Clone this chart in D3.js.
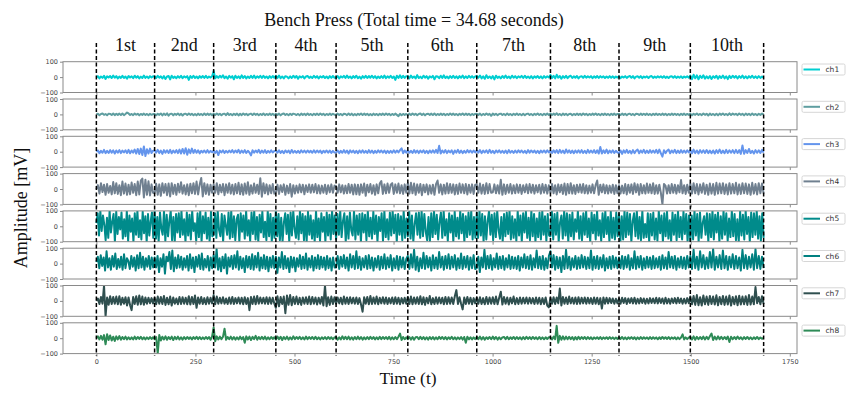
<!DOCTYPE html>
<html>
<head>
<meta charset="utf-8">
<script src="https://cdn.jsdelivr.net/npm/d3@7"></script>
<style>
  body { margin: 0; background: #fff; }
  svg { display: block; }
</style>
</head>
<body>
<div id="chart"></div>
<script>
// EMG amplitude (mV), one list per repetition
const channels = ['ch1', 'ch2', 'ch3', 'ch4', 'ch5', 'ch6', 'ch7', 'ch8'];
const colors = ['#00CED1', '#5F9EA0', '#6495ED', '#708090', '#008B8B', '#008080', '#2F4F4F', '#2E8B57'];

const ch1 = [
  [0, 6, -8, 4, -5, 9, -12, 5, -3, 7, -6, 10, -4, 6, -9, 3, -5, 8, -6, 4, -10, 7, -3, 5, -7, 9, -4, 6, -8, 3, -6, 10, -5, 4, -7, 6, -3, 5],
  [4, -6, 8, -4, 5, -9, 6, -12, 4, 7, -15, 9, -5, 3, -7, 6, -4, 8, -7, 5, -3, 6, -18, 7, -5, 9, -6, 4, -8, 6, -4, 7, -5, 8, -6, 4, -3, 6],
  [40, -8, 6, -5, 9, -3, 12, -7, 4, -10, 8, -4, 6, -14, 9, -6, 5, -8, 11, -5, 7, -9, 4, -6, 8, -5, 10, -7, 5, -4, 8, -6, 9, -5, 4, -8, 6, -5, 7, -4],
  [8, -5, 10, -7, 4, -9, 6, 3, -8, 5, -6, 9, -4, 7, -11, 5, -3, 6, -8, 4, 7, -5, 3, -6, 8, -4, 6, -9, 5, -3, 7, -6, 4, -8, 6, -5, 7, -4],
  [-4, 7, -9, 5, -3, 8, -6, 10, -5, 4, -8, 6, -4, 9, -7, 3, -10, 6, -5, 8, -6, 7, -4, 9, -5, 6, -8, 4, -6, 7, -5, 10, -7, 5, -4, 8, -6, 4, -18, 9, -5, 12, -6, 8, -5, 6],
  [6, -8, 10, -5, 4, -9, 13, -6, 3, -7, 9, -4, 6, -10, 5, -3, 8, -14, 6, 4, -7, 9, -5, 11, -6, 4, -8, 7, -5, 9, -6, 5, -8, 6, -4, 10, -7, 5, -6, 8, -4, 6, -5, 4],
  [7, -4, 10, -8, 5, -11, 12, -6, 4, -9, 6, -15, 9, -5, 3, -8, 7, -5, 10, -6, 4, -8, 9, -4, 6, -7, 5, -3, 8, -6, 9, -5, 4, -7, 6, -8, 5, -4, 7, -6, 5, -8, 6, -4, 5, -3],
  [14, -6, 9, -8, 15, -4, 7, -10, 6, -5, 8, -7, 4, 9, -6, 5, -4, 7, -8, 3, 6, -5, 8, -4, 5, -3, 6, -7, 5, -4, 7, -5, 6, -3, 5, -6, 4, -5, 6, -4, 5, -6, 4, -3],
  [5, -7, 4, -3, 6, -5, 3, 7, -4, 6, -8, 3, 5, -4, 6, -7, 4, -3, 5, -6, 4, 7, -5, 3, -4, 6, -3, 5, -4, 6, -5, 3, -6, 4, 5, -4, 6, -5, 3, -4, 5, -6, 4, -3, 5, -4],
  [10, -13, 15, -8, 11, -14, 9, -6, 12, -10, 5, -8, 7, -12, 6, -5, 9, -11, 7, -6, 10, -8, 5, -13, 8, -6, 9, -4, 7, -9, 6, -5, 10, -7, 5, -8, 6, -4, 9, -6, 5, -7, 6, -5, 4, -3]
];
const ch2 = [
  [0, 4, -5, 3, 6, -3, 2, -6, 5, 3, -4, 6, -5, 4, -3, 5, -4, 6, -5, 3, 12, 6, -4, 3, -5, 6, -2, 4, -6, 3, -3, 5, -4, 3, -5, 4, -3, 2],
  [3, -5, 4, -3, 6, -7, 5, -4, 7, -8, 3, 5, -6, 4, -3, 6, -5, 4, -7, 3, 5, -4, 6, -3, 4, -5, 3, -6, 5, -4, 3, -5, 6, -4, 5, -3, 4, -5],
  [5, -4, 6, -3, 4, -6, 3, 5, -5, 8, -4, 3, -6, 4, -3, 5, -7, 4, -5, 6, -3, 4, -5, 2, 5, -4, 6, -3, 4, -5, 3, -4, 6, -5, 3, -4, 5, -3, 4, -5],
  [4, -3, 5, -6, 3, 6, -4, 3, -5, 4, -3, 5, 2, -4, 3, -6, 5, -3, 4, -5, 6, -4, 3, -5, 4, -3, 5, -4, 6, -3, 4, -5, 3, -4, 5, -3, 4, -2],
  [-3, 5, -4, 3, -6, 4, 3, -5, 6, -4, 5, -6, 3, -5, 4, -3, 6, -4, 5, -3, 4, -6, 3, -5, 5, -4, 3, -6, 4, -3, 5, -4, 6, -3, 4, -5, 3, -4, 5, -3, -11, 4, -5, 3, -4, 3],
  [-5, 5, -4, 6, -3, 4, -5, 3, 6, -4, 5, -6, 3, 4, -3, 5, -4, 6, -5, 3, -4, 5, -3, 4, -5, 3, -4, 6, -3, 5, -4, 3, -5, 4, -3, 6, -4, 5, -3, 4, -5, 3, -4, 3],
  [4, -3, 5, -6, 3, -4, 6, -3, 4, -9, 5, -3, 4, -5, 3, 5, -4, 3, -5, 6, -4, 3, -5, 4, -3, 5, -4, 3, -5, 4, -6, 3, 5, -4, 3, -5, 4, -3, 6, -4, 3, -5, 4, -3, 5, -4],
  [6, -4, 5, -3, 7, -4, 3, -6, 5, -3, 4, -5, 3, 4, -6, 3, -4, 5, -3, 4, -5, 6, -3, 4, -5, 3, -4, 5, -3, 6, -4, 3, -5, 4, -3, 5, -4, 3, -5, 4, -3, 5, -4, 3],
  [3, -4, 5, -3, 4, -5, 3, 5, -4, 3, -5, 4, 3, -4, 5, -3, 4, -3, 5, -4, 3, -5, 4, -3, 5, -4, 3, -4, 5, -3, 4, -5, 3, -4, 5, -3, 4, -4, 3, -5, 4, -3, 5, -4, 3, -3],
  [5, -6, 4, -3, 6, -4, 3, -5, 6, -3, 4, -7, 5, -4, 3, -5, 4, -6, 5, -3, 6, -4, 3, -5, 7, -4, 5, -2, 4, -5, 6, -3, 4, -6, 5, -3, 4, -5, 6, -4, 3, -5, 4, -3, 5, -2]
];
const ch3 = [
  [0, 8, -10, 6, -7, 12, -9, 5, -8, 10, -6, 9, -12, 8, -6, 10, -9, 7, -5, 9, -8, 12, -10, 8, -6, 14, -12, 18, -15, 20, -22, 34, -28, 16, -12, 20, -9, 7],
  [8, -6, 12, -9, 7, -14, 10, -6, 9, -8, 12, -10, 7, -6, 10, -9, 14, -12, 18, -12, 22, -20, 15, -10, 20, -8, 12, -7, 9, -11, 6, -5, 8, -7, 10, -6, 5, -4],
  [6, -8, 5, -22, 7, -5, 9, -8, 5, -6, 7, -4, 10, -6, 8, -5, 12, -9, 7, -6, 10, -8, 6, -5, -24, 9, -6, 8, -5, 12, -9, 7, -6, 10, -8, 5, -6, 9, -5, 4],
  [7, -6, 9, -8, 5, -10, 8, -5, 7, -9, 11, -6, 5, -7, 6, -8, 9, -5, 7, -6, 8, -5, 6, -7, 9, -6, 8, -5, 7, -9, 6, -5, 8, -6, 7, -8, 5, -6],
  [-5, 8, -9, 6, -7, 10, -6, 8, -12, 9, -5, 7, -8, 6, -10, 8, -6, 9, -7, 5, -8, 10, -6, 8, -9, 6, -7, 9, -5, 8, -6, 7, -9, 6, -8, 5, -7, 9, -6, 8, -5, 10, 22, -10, 8, -6],
  [9, -7, 6, -8, 10, -6, 8, -9, 7, -5, 9, -8, 6, -10, 8, -6, 9, -7, 12, -8, 38, -12, 8, -6, 10, -9, 7, -5, 9, -14, 8, -6, 12, -8, 7, -9, 6, -7, 10, -5, 8, -6, 7, -5],
  [8, -6, 10, -9, 7, -5, 9, -8, 12, -7, 6, -10, 8, -5, 9, -7, 6, -8, 7, -9, 10, -6, 5, -8, 7, -6, 9, -5, 8, -7, 6, -9, 10, -6, 8, -5, 7, -8, 6, -9, 7, -5, 8, -6, 9, -5],
  [6, -8, 9, -6, 10, -9, 12, -7, 8, -10, 14, -6, 9, -8, 7, -10, 8, -6, 9, -7, 10, -8, 6, -9, 12, -7, 8, -6, 10, -8, 9, -12, 30, -12, 9, -8, 14, -10, 7, -6, 9, -8, 6, -5],
  [-10, 8, -14, 9, -7, 12, -8, 6, -11, 10, -9, 6, 14, -10, 8, -6, 12, -9, 7, -8, 10, -6, 8, -7, 12, -9, 14, -10, -32, 10, -9, 6, 14, -10, 8, -6, 12, -9, 7, -8, 10, -6, 8, -7, 9, -5],
  [12, -10, 14, -9, 8, -12, 10, -7, 9, -8, 11, -9, 7, -10, 8, -12, 10, -8, 14, -9, 7, -10, 12, -8, 9, -7, 10, -9, 12, -8, 10, -14, 40, -14, 10, -8, 18, -9, 6, -12, 10, -7, 9, -8, 12, -6]
];
const ch4 = [
  [0, 25, -30, 38, -20, 28, -38, 32, -25, 20, -35, 45, -28, 38, -32, 25, -40, 48, -30, 35, -38, 28, -34, 42, -25, 32, -40, 48, -35, 55, 68, -55, 60, -38, 50, -42, 30, -25],
  [-28, 34, -38, 30, -44, 38, -25, 32, -40, 35, -48, 38, -32, 28, -38, 34, -22, 44, -30, 25, -35, 30, -40, 34, -28, 38, -32, 48, -35, 28, 72, -48, 38, -32, 30, -38, 28, -25],
  [30, -25, 38, -34, 28, -22, 32, -40, 30, -25, 38, -30, 28, -35, 32, -28, 40, -34, 30, -38, 35, -30, 44, -38, 25, -30, 35, -25, 28, -32, 70, -50, 38, -28, 30, -35, 25, -28, 32, -30],
  [-22, 28, -32, 25, -20, 30, -38, 22, -28, 32, -50, 25, -30, 22, -25, 30, -22, 28, -34, 25, -20, 30, -25, 28, -22, 32, -28, 25, -30, 22, -25, 28, -32, 25, -22, 30, -25, 22],
  [20, -25, 30, -22, 25, -30, 22, -28, 32, -25, 28, -35, 30, -34, 28, -38, 30, -25, 35, -44, 28, -22, 32, -30, 25, -38, 30, -28, 35, 52, -32, 30, -28, 35, -25, 28, 38, -32, 30, -25, 35, -28, 25, -32, 30, -25],
  [38, -30, 40, -28, 35, -38, 30, -25, 32, -40, 28, -22, 30, -35, 25, -30, 28, -38, 32, 55, -25, 30, -35, 28, -30, 38, -28, 32, -25, 30, -35, 28, -32, 35, -25, 30, -28, 32, -35, 28, -25, 30, -32, 28],
  [30, -25, 35, -30, 28, -32, 38, -28, 32, -25, -22, 30, -28, 25, -30, 60, -38, 30, -32, 28, -25, 32, -30, 25, -28, 30, -25, 28, -32, 25, -22, 30, -28, 32, -25, 28, -30, 25, -22, 28, -30, 32, -25, 28, -30, 25],
  [-25, 32, -28, 25, -35, 30, -22, 28, -32, 35, -38, 32, -28, 38, -30, 25, -32, 28, -22, 30, -25, 32, -28, 25, -30, 22, -25, 30, -28, 25, 55, -38, 28, -22, 30, -28, 25, -30, 22, -25, 28, -32, 25, -28],
  [25, -30, 22, -28, 32, -35, 28, -25, 30, -32, 38, -22, 30, -38, 32, -28, 25, -30, 35, -25, 30, -28, 38, -32, 25, -30, 28, -25, -100, 32, 22, -30, 25, -28, 32, -25, 28, -30, 25, -22, 58, -28, 25, -32, 28, -25],
  [35, -30, 38, -28, 32, -35, 30, -25, 38, -32, 28, -38, 35, -30, 32, -38, 40, -30, 35, -28, 38, -32, 30, -35, 38, -30, 32, -28, 40, -35, 30, -32, 38, -28, 35, -32, 30, -38, 40, -30, 32, -35, 38, -28, 35, -30]
];
const ch5 = [
  [20, 85, -60, 100, -30, 70, 10, -90, 55, -75, 100, -40, 30, 80, -100, 95, -50, 60, -20, 90, -80, 45, -65, 100, -95, 70, -35, 50, -100, 85, -55, 100, -70, 40, -85, 95, -45, 65, -100, 80, -60, 30, 90, -75],
  [100, -80, 60, -100, 90, -15, -55, 100, -95, 75, -65, 35, 100, -90, 60, -100, 80, -40, 85, -70, 100, -55, 45, -100, 90, -60, 75, -85, 100, -30, 20, -95, 85, -70, 100, -100, 65, -45, 90, -80, 55, -100, 95, -65],
  [-55, 85, -75, 100, -25, -65, 80, -100, 70, 5, -55, 90, -80, 100, -70, 65, -90, 45, 75, -100, 85, -35, 70, -80, 100, -60, 40, -95, 90, -50, 100, -85, 60, -100, 75, -40, 95, -70, 30, -90, 100, -65, 80, -100, 55, -75],
  [100, -65, 80, -90, 55, -100, 25, 85, -50, 75, -100, 90, -60, 100, -15, -75, 65, -85, 100, -45, 80, -90, 65, -100, 95, -55, 70, -80, 40, -100, 100, -70, 50, -95, 85, -35, 60, -100, 90, -60, 75, -85, 100, -50, 70],
  [-85, 80, -55, 100, -70, 35, 85, -100, 65, -80, 90, -25, -60, 100, -85, 70, -55, 80, -100, 85, -40, 75, -90, 100, -65, 55, -80, 95, -50, 70, -100, 60, -30, 85, -95, 100, -70, 45, -85, 90, -60, 100, -45, 75, -100, 80, -55, 65, -90, 100, -75, 50],
  [-65, 100, -80, 70, -100, 15, 85, -55, 90, -75, 100, -65, 80, -35, -90, 60, -100, 85, -70, 100, -50, 75, -85, 30, 90, -75, 100, -60, 45, -95, 85, -40, 70, -100, 95, -65, 55, -80, 100, -45, 80, -100, 65, -70, 90, -55, 100, -85, 60, -75],
  [90, -75, 100, -60, 80, -100, 65, -85, 35, 100, -55, 75, -90, 85, -70, 100, -25, -80, 60, -100, 80, -65, 90, -50, 100, -85, 65, -75, 45, -95, 100, -60, 70, -100, 85, -40, 95, -75, 55, -90, 100, -65, 80, -100, 50, -70, 90, -85, 100, -55, 65, -95, 80, -60],
  [-65, 100, -85, 80, -55, 90, -100, 25, 70, -80, 100, -60, 85, -100, 75, -65, 90, -85, 45, -35, 100, -80, 65, -90, 85, -55, 100, -70, 50, -100, 90, -45, 75, -85, 100, -60, 40, -95, 85, -70, 100, -50, 60, -100, 95, -75, 55, -85, 90, -65],
  [80, -100, 65, -85, 100, -70, 90, -55, 80, -100, 35, 85, -65, 100, -80, 60, -90, 100, -75, 15, -70, 85, -100, 80, -60, 90, -85, 50, -95, 100, -45, 70, -100, 85, -65, 95, -80, 40, -100, 90, -55, 75, -90, 100, -70, 60, -85, 95, -50, 80, -100, 70],
  [-100, 70, -85, 100, -60, 80, -100, 90, -75, 25, 65, -55, 85, -100, 80, -70, 100, -85, 75, -40, 90, -100, 65, -80, 100, -55, 85, -95, 50, -70, 100, -65, 80, -90, 45, -100, 95, -60, 75, -85, 100, -50, 60, -100, 90, -70, 85, -55, 100, -80, 65, -95, 85, -75]
];
const ch6 = [
  [10, 45, -30, 55, -15, 40, -45, 80, -25, 35, -40, 50, -20, 65, -35, 30, -25, 45, -40, 60, -30, 35, 15, -35, 50, -20, 40, -45, 55, -30, 70, -25, 45, -40, 35, -20, 50, -35, 40, -25],
  [40, -25, 50, -55, 35, -20, 60, -65, 45, 15, 75, -35, 85, -50, 40, -30, 55, -25, 45, -40, 35, -25, 50, -45, 60, -30, 40, -55, 45, -20, 55, -35, 65, -40, 30, -25, 50, -45, 40, -30],
  [55, -25, 95, -40, 35, -50, 45, -30, 60, -65, 40, -20, 50, -35, 55, -25, 80, -40, 45, -30, 35, -55, 50, -25, 45, -35, 60, -40, 50, -25, 70, -45, 40, -30, 55, -35, 45, -50, 40, -25, 50, -30],
  [45, -60, 40, -25, 75, -35, 50, -30, 35, -55, 45, -25, 40, -50, 35, -20, 55, -35, 45, -30, 65, -40, 35, -25, 50, -45, 40, -30, 55, -35, 45, -25, 40, -40, 50, -30, 35, -45, 40, -25],
  [-25, 50, -35, 45, -20, 55, -30, 40, -45, 60, -25, 50, -35, 80, -30, 45, -40, 35, -25, 50, -35, 55, -30, 40, -45, 35, -25, 50, -40, 45, -30, 60, -35, 40, -25, 55, -45, 35, -30, 50, -40, 45, -25, 40, -35, 30],
  [50, -35, 60, -25, 90, -40, 45, -50, 35, -30, 70, -35, 50, -25, 40, -45, 55, -30, 40, -35, 75, -25, 45, -40, 50, -30, 60, -35, 45, -25, 55, -40, 35, -30, 65, -35, 45, -25, 50, -40, 40, -30, 55, -35],
  [-30, 45, -55, 40, -25, 90, -35, 50, -30, 55, -40, 35, -25, 65, -35, 45, -30, 50, -40, 35, -25, 55, -35, 45, -30, 40, -35, 50, -45, 40, -25, 60, -30, 45, -35, 55, -40, 35, -25, 85, -30, 45, -35, 50, -40, 35, -30, 50],
  [80, -25, 55, -40, 45, -30, 40, -55, 50, -35, 90, -30, 45, -40, 35, -25, 50, -35, 40, -30, 55, -25, 45, -35, 40, -30, 85, -40, 45, -30, 50, -35, 40, -25, 55, -45, 35, -30, 45, -35, 50, -25, 40, -30],
  [40, -30, 50, -35, 45, -25, 55, -40, 35, -30, 80, -35, 45, -25, 50, -40, 35, -30, 45, -25, 40, -35, 50, -30, 35, -25, 45, -40, 55, -30, 40, -35, 75, -25, 45, -30, 50, -40, 35, -25, 45, -30, 40, -35, 50, -25],
  [50, -35, 90, -30, 45, -40, 80, -25, 55, -35, 40, -30, 75, -25, 95, -40, 45, -25, 55, -35, 85, -30, 50, -40, 45, -25, 60, -35, 50, -30, 40, -45, 90, -30, 55, -35, 45, -25, 60, -40, 95, -30, 50, -35, 45, -30]
];
const ch7 = [
  [0, 15, -20, 25, -18, 100, -100, 22, -25, 30, -20, 25, -18, 28, -22, 30, -25, 20, -18, 24, -30, 22, -28, -60, 25, -20, 30, -25, 35, -22, 28, -25, 22, -18, 20, -15, 18, -16],
  [20, -22, 28, -18, 25, -20, 32, -26, 20, -22, 28, -30, 22, -18, 16, -22, 26, -20, 24, -18, 20, -22, 30, -24, 26, -20, 35, -45, 22, -18, 25, -20, 18, -22, 24, -18, 20, -16],
  [38, -22, 28, -18, 20, -16, 24, -18, 16, -20, 22, -18, 26, -20, 18, -16, 22, -18, 20, -22, 24, -20, 18, -60, 26, -20, 28, -22, 32, -18, 22, -16, 20, -18, 24, -20, 22, -18, 20, -16],
  [-45, 30, -35, 25, -20, 28, -80, 35, -25, 38, -28, 26, -20, 28, -22, 20, -26, 22, -18, 24, -20, 28, -22, 26, -18, 22, -24, 20, -18, 26, -30, 100, -35, 24, -26, 28, -20, 24],
  [-18, 22, -16, 20, -22, 28, -18, 22, -20, 24, -16, 20, -18, 22, -20, 18, -24, -70, 24, -18, 26, -22, 32, -20, 22, -18, 28, -22, 20, -16, 24, -18, 22, -20, 18, -16, 22, -20, 24, -18, 20, -22, 18, -16, 20, -18],
  [26, -20, 28, -22, 22, -18, 24, -20, 30, -22, 24, -26, 20, -16, 32, -22, 18, -20, 24, -18, 22, -16, 20, -22, 26, -20, 24, -18, 22, -20, 30, 70, -20, 24, -18, -55, 22, -20, 26, -18, 20, -22, 18, -16],
  [22, -18, 24, -20, 18, -22, 26, -20, 22, -18, 24, -20, 28, -22, 20, 60, -24, 26, -18, 22, -24, 20, -16, 28, -22, 18, -20, 22, -18, 20, -16, 22, -18, 20, -16, 18, -20, 22, -18, 20, -22, 18, -20, 22, -30, -42],
  [20, -18, 24, -20, 22, -16, 80, -30, 26, -18, 22, -20, 28, -16, 20, -18, 22, -20, 24, -18, 20, -16, 22, -18, 20, -16, 18, -20, 22, -18, 20, -22, 18, -50, 22, -18, 20, -16, 18, -14, 16, -18, 14, -16],
  [16, -18, 20, -14, 18, -20, 16, -14, 18, -16, 20, -18, 14, -16, 18, -14, 16, -18, 14, -16, 18, -14, 16, -15, 20, -16, 18, -14, 16, -18, 20, -16, 14, -18, 16, -14, 18, -16, 20, -14, 16, -18, 14, -16, 18, -15],
  [28, -22, 32, -26, 38, -28, 24, -30, 35, -22, 28, -26, 32, -20, 28, -24, 36, -28, 26, -22, 32, -26, 28, -24, 35, -30, 26, -22, 30, -28, 34, -24, 28, -22, 30, -26, 38, -24, 28, -22, 90, -15, 26, -22, 30, -20]
];
const ch8 = [
  [0, 12, -8, 15, -10, 20, -40, 25, -12, 18, -15, 10, -18, 12, -8, 14, -10, 8, -6, 10, -8, 6, -7, 5, -8, 10, -6, 8, -5, 9, -7, 6, -8, 5, -6, 7, -5, 6],
  [-6, 8, -100, 20, -15, 10, -8, 12, -10, 8, -6, 10, -12, 9, -7, 10, -8, 6, -9, 7, -6, 8, -5, 6, -8, 7, -5, 9, -6, 8, -7, 5, -6, 8, -5, 7, -10, 12],
  [70, -20, 12, -8, 10, -6, 9, 62, -10, 8, -6, 10, -8, 7, -9, 6, -8, 10, -6, 8, -30, 12, -8, 10, -12, 9, -6, 15, -10, 8, -7, 9, -6, 10, -8, 6, -7, 8, -5, 6],
  [-8, 10, -6, 9, -12, 8, -7, 10, -9, 6, -8, 12, -6, 8, -5, 9, -7, 6, -8, 10, -6, 7, -5, 8, -6, 9, -7, 5, -8, 6, -5, 7, -6, 8, -5, 6, -7, 5],
  [8, -10, 6, -8, 12, -6, 9, -7, 10, -8, 6, -9, 8, -7, 10, -6, 8, -9, 6, -7, 8, -6, 9, -5, 7, -8, 6, -7, 9, -6, 8, -5, 7, -6, 9, -8, 6, -7, 8, -6, 10, 30, -12, 8, -7, 6],
  [-6, 8, -9, 7, -10, 6, 8, -7, 9, -6, 7, -8, 6, -9, 8, -6, 7, -8, 6, -7, 9, -5, 8, -6, 7, -8, 6, -5, 9, -7, 6, -8, 5, -6, 7, -9, 8, -30, 10, -7, 6, -8, 5, -6],
  [8, -6, 10, -8, 7, -9, 6, -5, 8, -7, 10, -6, 8, -9, 6, -7, 5, 8, -6, 9, -7, 6, -5, 8, -6, 7, -5, 6, -8, 7, -6, 9, -5, 7, -6, 8, -5, 6, -7, 8, -6, 5, -7, 6, -5, 6],
  [6, -8, 10, -6, 80, -30, 15, -10, 12, -8, 10, -7, 9, -6, 8, -10, 7, -8, 9, -6, 7, -5, 8, -6, 7, -5, 6, -7, 5, -4, 6, -5, 7, -6, 5, -4, 6, -5, 7, -4, 5, -6, 4, -5],
  [6, -5, 8, -6, 5, -7, 6, -4, 7, -5, 6, -8, 5, -6, 7, -5, 6, -4, 5, -6, 7, -5, 6, -4, 5, -7, 6, -5, 8, -4, 6, -5, 7, -6, 5, -4, 6, -7, 5, -6, 4, 25, -8, 5, -6, 4],
  [10, -8, 12, -10, 9, -7, 8, -6, 10, -8, 9, -7, 12, 30, -12, 10, -8, 12, -6, 9, -7, 8, -6, 10, -25, 9, -7, 8, -6, 10, -5, 6, -8, 7, -5, 8, -6, 5, -7, 6, -5, 8, -6, 5, -4, 3]
];
const series = [ch1, ch2, ch3, ch4, ch5, ch6, ch7, ch8];

const totalSamples = 1684;
const repBounds = [0, 147, 296, 453, 605, 786, 960, 1146, 1319, 1499, 1684];
const repLabels = ['1st', '2nd', '3rd', '4th', '5th', '6th', '7th', '8th', '9th', '10th'];
const xTicks = [0, 250, 500, 750, 1000, 1250, 1500, 1750];
const yTicks = [-100, 0, 100];

const width = 847;
const height = 393;
const left = 63, right = 797;
const panelTop = 61.7, panelH = 30.8, panelStep = 37.3;
const serif = '"Liberation Serif", "DejaVu Serif", serif';
const sans = '"DejaVu Sans", sans-serif';

const svg = d3.select('#chart').append('svg')
  .attr('width', width)
  .attr('height', height);

const pad = totalSamples * 0.05;
const x = d3.scaleLinear()
  .domain([-pad, totalSamples + pad])
  .range([left, right]);

const fmt = d => (d < 0 ? '\u2212' + Math.abs(d) : String(d));

// spread each repetition's readings over its own time span
function toPoints(reps) {
  const pts = [];
  reps.forEach((vals, r) => {
    const t0 = repBounds[r], t1 = repBounds[r + 1];
    const last = r === reps.length - 1;
    const n = last ? vals.length - 1 : vals.length;
    vals.forEach((v, k) => pts.push([t0 + k * (t1 - t0) / n, v]));
  });
  return pts;
}

series.forEach((reps, i) => {
  const top = panelTop + i * panelStep;
  const y = d3.scaleLinear().domain([-100, 100]).range([top + panelH, top]);
  const g = svg.append('g');

  g.append('clipPath').attr('id', 'clip' + i)
    .append('rect')
    .attr('x', left).attr('y', top)
    .attr('width', right - left).attr('height', panelH);

  const line = d3.line().x(d => x(d[0])).y(d => y(d[1]));

  g.append('path')
    .datum(toPoints(reps))
    .attr('clip-path', `url(#clip${i})`)
    .attr('fill', 'none')
    .attr('stroke', colors[i])
    .attr('stroke-width', 2)
    .attr('stroke-linejoin', 'round')
    .attr('d', line);

  // frame
  g.append('rect')
    .attr('x', left).attr('y', top)
    .attr('width', right - left).attr('height', panelH)
    .attr('fill', 'none')
    .attr('stroke', '#8a8a8a')
    .attr('stroke-width', 1);

  const yAxis = g.append('g')
    .attr('transform', `translate(${left},0)`)
    .call(d3.axisLeft(y).tickValues(yTicks).tickSize(3).tickPadding(2).tickFormat(fmt));
  yAxis.select('.domain').remove();
  yAxis.selectAll('line').attr('stroke', '#8a8a8a');
  yAxis.selectAll('text')
    .attr('font-family', sans).attr('font-size', 6.5).attr('fill', '#444');

  // x ticks on every panel, labels only on the bottom one
  const xAxis = g.append('g')
    .attr('transform', `translate(0,${top + panelH})`)
    .call(d3.axisBottom(x).tickValues(xTicks).tickSize(3).tickPadding(3)
      .tickFormat(i === series.length - 1 ? d3.format('d') : ''));
  xAxis.select('.domain').remove();
  xAxis.selectAll('line').attr('stroke', '#8a8a8a');
  xAxis.selectAll('text')
    .attr('font-family', sans).attr('font-size', 6.5).attr('fill', '#444');

  // legend
  const lg = g.append('g').attr('transform', `translate(802,${top + 2.3})`);
  lg.append('rect')
    .attr('width', 43).attr('height', 11)
    .attr('rx', 1.5)
    .attr('fill', '#fff')
    .attr('stroke', '#d6d6d6');
  lg.append('line')
    .attr('x1', 1.5).attr('x2', 18).attr('y1', 5.5).attr('y2', 5.5)
    .attr('stroke', colors[i]).attr('stroke-width', 2);
  lg.append('text')
    .attr('x', 23.5).attr('y', 8.3)
    .attr('font-family', sans).attr('font-size', 7.5).attr('fill', '#333')
    .text(channels[i]);
});

// repetition boundaries
const lastBottom = panelTop + 7 * panelStep + panelH;
svg.append('g')
  .selectAll('line')
  .data(repBounds)
  .join('line')
  .attr('x1', d => x(d)).attr('x2', d => x(d))
  .attr('y1', 43).attr('y2', lastBottom + 2)
  .attr('stroke', '#000')
  .attr('stroke-width', 1.5)
  .attr('stroke-dasharray', '4,2.5');

svg.append('g')
  .selectAll('text')
  .data(repLabels)
  .join('text')
  .attr('x', (d, i) => (x(repBounds[i]) + x(repBounds[i + 1])) / 2)
  .attr('y', 51)
  .attr('text-anchor', 'middle')
  .attr('font-family', serif)
  .attr('font-size', 18)
  .attr('fill', '#111')
  .text(d => d);

svg.append('text')
  .attr('x', 414).attr('y', 26)
  .attr('text-anchor', 'middle')
  .attr('font-family', serif).attr('font-size', 18).attr('fill', '#111')
  .text('Bench Press (Total time = 34.68 seconds)');

svg.append('text')
  .attr('x', 408).attr('y', 384)
  .attr('text-anchor', 'middle')
  .attr('font-family', serif).attr('font-size', 17.5).attr('fill', '#111')
  .text('Time (t)');

svg.append('text')
  .attr('transform', 'translate(27,208) rotate(-90)')
  .attr('text-anchor', 'middle')
  .attr('font-family', serif).attr('font-size', 18).attr('fill', '#111')
  .text('Amplitude [mV]');
</script>
</body>
</html>
